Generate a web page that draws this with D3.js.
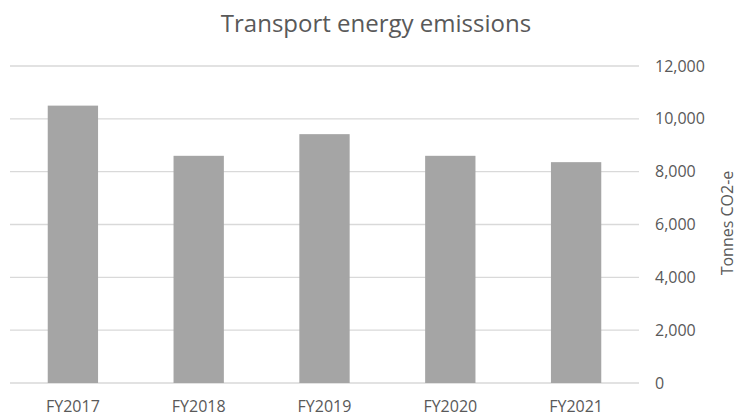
<!DOCTYPE html>
<html>
<head>
<meta charset="utf-8">
<script src="https://cdn.jsdelivr.net/npm/d3@7"></script>
<style>
  body { margin: 0; background: #fff; }
  text { font-family: "Open Sans", sans-serif; fill: #595959; }
</style>
</head>
<body>
<svg id="chart" width="737" height="416"></svg>
<script>
const years = ['FY2017', 'FY2018', 'FY2019', 'FY2020', 'FY2021']
const emissions = [10500, 8600, 9420, 8600, 8360]
const yTicks = [0, 2000, 4000, 6000, 8000, 10000, 12000]

const svg = d3.select('#chart')
const margin = { left: 10, right: 98, top: 66, bottom: 33 }
const width = 737, height = 416

const x = d3.scaleBand()
    .domain(years)
    .range([margin.left, width - margin.right])
    .paddingInner(0.6)
    .paddingOuter(0.3)

const y = d3.scaleLinear()
    .domain([0, 12000])
    .range([height - margin.bottom, margin.top])

// gridlines
svg.append('g')
    .selectAll('line')
    .data(yTicks)
    .join('line')
    .attr('x1', margin.left)
    .attr('x2', width - margin.right)
    .attr('y1', d => y(d))
    .attr('y2', d => y(d))
    .attr('stroke', '#d9d9d9')
    .attr('stroke-width', 1.3)

// bars
svg.append('g')
    .selectAll('rect')
    .data(emissions)
    .join('rect')
    .attr('x', (d, i) => x(years[i]))
    .attr('y', d => y(d))
    .attr('width', x.bandwidth())
    .attr('height', d => y(0) - y(d))
    .attr('fill', '#a5a5a5')

// right axis
const yAxis = svg.append('g')
    .attr('transform', `translate(${width - margin.right}, 0)`)
    .call(d3.axisRight(y).tickValues(yTicks).tickFormat(d3.format(',')).tickSize(0).tickPadding(16))
yAxis.select('.domain').remove()
yAxis.selectAll('text')
    .style('font-size', '16px')
    .attr('fill', '#595959')

// bottom axis
const xAxis = svg.append('g')
    .attr('transform', `translate(0, ${height - margin.bottom})`)
    .call(d3.axisBottom(x).tickSize(0).tickPadding(18))
xAxis.select('.domain').remove()
xAxis.selectAll('text')
    .style('font-size', '16px')
    .attr('fill', '#595959')

// title
svg.append('text')
    .attr('x', 376)
    .attr('y', 32)
    .attr('text-anchor', 'middle')
    .style('font-size', '24px')
    .text('Transport energy emissions')

// axis title
svg.append('text')
    .attr('transform', 'translate(733, 223) rotate(-90)')
    .attr('text-anchor', 'middle')
    .style('font-size', '16px')
    .text('Tonnes CO2-e')
</script>
</body>
</html>
